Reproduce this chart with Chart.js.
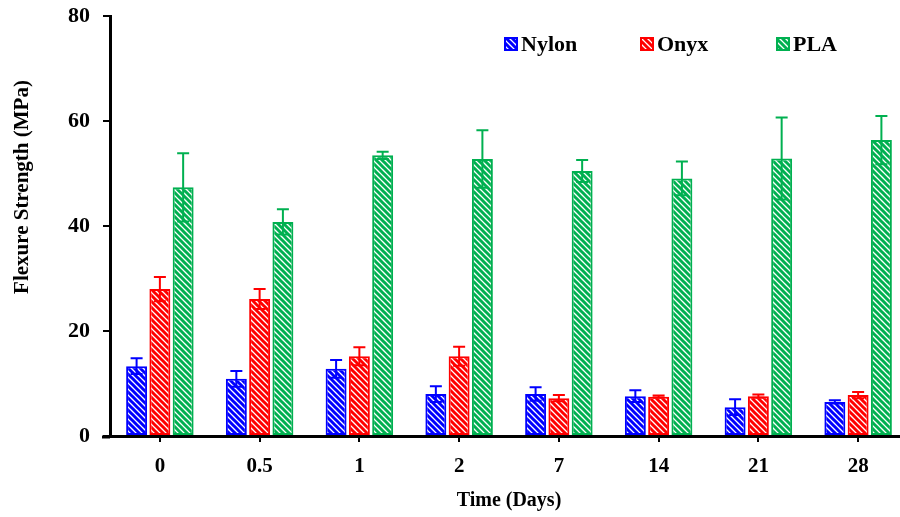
<!DOCTYPE html>
<html>
<head>
<meta charset="utf-8">
<script src="https://cdn.jsdelivr.net/npm/chart.js@4.4.1/dist/chart.umd.min.js"></script>
<style>
    html, body { margin: 0; padding: 0; background: #fff; overflow: hidden; }
    #wrap { width: 910px; height: 517px; }
</style>
</head>
<body>
<div id="wrap"><canvas id="strengthChart" width="910" height="517"></canvas></div>
<script>
// Flexure strength per immersion time
const days = ['0', '0.5', '1', '2', '7', '14', '21', '28'];
const nylon = [13.3, 10.9, 12.8, 8.0, 8.0, 7.6, 5.5, 6.5];
const nylonErr = [1.5, 1.5, 1.7, 1.5, 1.3, 1.1, 1.5, 0.3];
const onyx = [28.0, 26.1, 15.2, 15.2, 7.2, 7.5, 7.6, 7.8];
const onyxErr = [2.3, 1.9, 1.7, 1.8, 0.6, 0.2, 0.3, 0.6];
const pla = [47.4, 40.8, 53.5, 52.8, 50.5, 49.1, 52.9, 56.4];
const plaErr = [6.5, 2.4, 0.7, 5.5, 2.1, 3.2, 7.8, 4.6];
const yTicks = [0, 20, 40, 60, 80];

const BLUE = '#0000ff';
const RED = '#ff0000';
const GREEN = '#00b050';
const FONT = "'Liberation Serif', 'Times New Roman', serif";

// diagonal hatch fill
function makeHatch(color) {
    const c = document.createElement('canvas');
    c.width = 6;
    c.height = 6;
    const g = c.getContext('2d');
    g.fillStyle = '#fff';
    g.fillRect(0, 0, 6, 6);
    g.strokeStyle = color;
    g.lineWidth = 3;
    g.beginPath();
    g.moveTo(-3, -3); g.lineTo(9, 9);
    g.moveTo(-9, -3); g.lineTo(3, 9);
    g.moveTo(3, -3); g.lineTo(15, 9);
    g.stroke();
    return g.createPattern(c, 'repeat');
}

const ctx = document.getElementById('strengthChart').getContext('2d');

const series = [
    { label: 'Nylon', data: nylon, err: nylonErr, color: BLUE },
    { label: 'Onyx', data: onyx, err: onyxErr, color: RED },
    { label: 'PLA', data: pla, err: plaErr, color: GREEN }
];

// error bars drawn on top of each bar
const errorBars = {
    id: 'errorBars',
    afterDatasetsDraw(chart) {
        const c = chart.ctx;
        const y = chart.scales.y;
        chart.data.datasets.forEach((ds, i) => {
            const meta = chart.getDatasetMeta(i);
            c.save();
            c.strokeStyle = ds.borderColor;
            c.lineWidth = 2;
            meta.data.forEach((bar, j) => {
                const v = ds.data[j];
                const e = ds.err[j];
                const top = y.getPixelForValue(v + e);
                const bot = y.getPixelForValue(v - e);
                c.beginPath();
                c.moveTo(bar.x, top); c.lineTo(bar.x, bot);
                c.moveTo(bar.x - 6, top); c.lineTo(bar.x + 6, top);
                c.moveTo(bar.x - 6, bot); c.lineTo(bar.x + 6, bot);
                c.stroke();
            });
            c.restore();
        });
    }
};

// legend inside plot, plus rotated y title and the x axis stub left of the y axis
const extras = {
    id: 'extras',
    afterDraw(chart) {
        const c = chart.ctx;
        const area = chart.chartArea;
        c.save();
        c.strokeStyle = '#000';
        c.lineWidth = 3;
        c.beginPath();
        c.moveTo(area.left - 8, area.bottom + 1);
        c.lineTo(area.left, area.bottom + 1);
        c.stroke();

        c.font = 'bold 22px ' + FONT;
        c.textBaseline = 'middle';
        c.textAlign = 'left';
        const pos = [505, 641, 777];
        chart.data.datasets.forEach((ds, i) => {
            const x = pos[i];
            const yMid = 44;
            c.fillStyle = ds.backgroundColor;
            c.fillRect(x, yMid - 6, 12, 12);
            c.strokeStyle = ds.borderColor;
            c.lineWidth = 2;
            c.strokeRect(x, yMid - 6, 12, 12);
            c.fillStyle = '#000';
            c.fillText(ds.label, x + 16, yMid + 1);
        });

        c.translate(23, 187);
        c.rotate(-Math.PI / 2);
        c.textAlign = 'center';
        c.font = 'bold 21px ' + FONT;
        c.fillText('Flexure Strength (MPa)', 0, 0);
        c.restore();
    }
};

new Chart(ctx, {
    type: 'bar',
    data: {
        labels: days,
        datasets: series.map(s => ({
            label: s.label,
            data: s.data,
            err: s.err,
            backgroundColor: makeHatch(s.color),
            borderColor: s.color,
            borderWidth: 2,
            borderSkipped: false,
            barPercentage: 0.9,
            categoryPercentage: 0.7
        }))
    },
    options: {
        responsive: false,
        animation: false,
        layout: { padding: { top: 16, right: 2, left: 0, bottom: 0 } },
        plugins: {
            legend: { display: false },
            tooltip: { enabled: false }
        },
        scales: {
            x: {
                grid: { display: true, offset: false, drawOnChartArea: false, tickLength: 6, color: '#000', lineWidth: 2 },
                border: { display: true, color: '#000', width: 3 },
                ticks: { color: '#000', font: { family: FONT, size: 21, weight: 'bold' }, padding: 12 },
                title: { display: true, text: 'Time (Days)', color: '#000', font: { family: FONT, size: 20, weight: 'bold' }, padding: { top: 0 } },
                afterFit: (scale) => { scale.height = 81; }
            },
            y: {
                min: 0,
                max: 80,
                afterBuildTicks: (scale) => { scale.ticks = yTicks.map(v => ({ value: v })); },
                grid: { display: true, drawOnChartArea: false, tickLength: 7, color: '#000', lineWidth: 2 },
                border: { display: true, color: '#000', width: 3 },
                ticks: { color: '#000', font: { family: FONT, size: 22, weight: 'bold', lineHeight: 0.3 }, padding: 13 },
                afterFit: (scale) => { scale.width = 110; }
            }
        }
    },
    plugins: [errorBars, extras]
});
</script>
</body>
</html>
